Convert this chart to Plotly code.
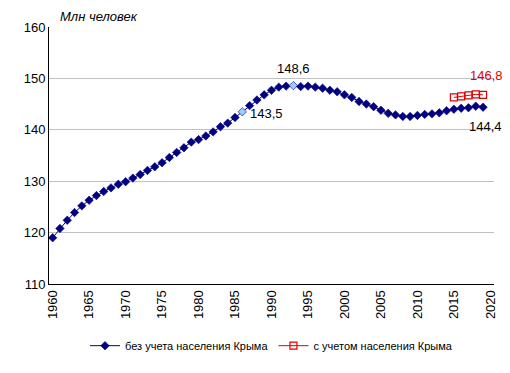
import plotly.graph_objects as go

years = list(range(1960, 2020))
pop_no_crimea = [
    119.0, 120.8, 122.4, 123.9, 125.2, 126.3, 127.2, 128.0, 128.7, 129.4,
    129.9, 130.6, 131.3, 132.1, 132.8, 133.6, 134.6, 135.6, 136.5, 137.6,
    138.1, 138.8, 139.6, 140.6, 141.3, 142.4, 143.5, 144.7, 145.8, 146.8,
    147.7, 148.3, 148.5, 148.6, 148.4, 148.5, 148.3, 148.1, 147.7, 147.4,
    146.8, 146.3, 145.5, 145.0, 144.5, 143.8, 143.2, 142.9, 142.6, 142.6,
    142.8, 143.0, 143.1, 143.3, 143.7, 144.0, 144.2, 144.3, 144.6, 144.4,
]
years_crimea = [2015, 2016, 2017, 2018, 2019]
pop_with_crimea = [146.3, 146.5, 146.7, 146.9, 146.8]
highlight_years = [1986, 1993]
tick_years = list(range(1960, 2021, 5))
name_no = "без учета населения Крыма"
name_with = "с учетом населения Крыма"
y_title = "Млн человек"

NAVY = "#000080"
LIGHT = "#99ccff"
RED = "#e00000"
FONT = "Liberation Sans, Arial, sans-serif"

fill = [LIGHT if y in highlight_years else NAVY for y in years]

fig = go.Figure()
fig.add_trace(go.Scatter(
    x=years, y=pop_no_crimea, name=name_no, mode="lines+markers",
    line=dict(color=NAVY, width=1),
    marker=dict(symbol="diamond", size=6.5, color=fill, line=dict(color=NAVY, width=0.6)),
))
fig.add_trace(go.Scatter(
    x=years_crimea, y=pop_with_crimea, name=name_with, mode="lines+markers",
    line=dict(color=RED, width=1),
    marker=dict(symbol="square-open", size=7, color=RED, line=dict(width=1.2)),
))

def fmt(v):
    return f"{v:.1f}".replace(".", ",")

i1 = years.index(highlight_years[0])
i2 = years.index(highlight_years[1])
ann = [
    dict(x=years[i1], y=pop_no_crimea[i1], text=fmt(pop_no_crimea[i1]),
         xanchor="left", yanchor="middle", xshift=6, yshift=-2, font=dict(color="#000000")),
    dict(x=years[i2], y=pop_no_crimea[i2], text=fmt(pop_no_crimea[i2]),
         xanchor="center", yanchor="bottom", yshift=8, font=dict(color="#000000")),
    dict(x=years_crimea[-1], y=pop_with_crimea[-1], text=fmt(pop_with_crimea[-1]),
         xanchor="center", yanchor="bottom", xshift=3, yshift=10, font=dict(color=RED)),
    dict(x=years[-1], y=pop_no_crimea[-1], text=fmt(pop_no_crimea[-1]),
         xanchor="center", yanchor="top", xshift=2, yshift=-10, font=dict(color="#000000")),
]
for a in ann:
    a.update(showarrow=False, xref="x", yref="y")
    a["font"].update(size=13, family=FONT)
fig.update_layout(annotations=ann)

fig.add_annotation(xref="paper", yref="paper", x=0.02, y=1.0, yanchor="bottom", yshift=1,
                   xanchor="left", text="<i>" + y_title + "</i>", showarrow=False,
                   font=dict(size=13, family=FONT, color="#000000"))

fig.update_layout(
    width=502, height=365,
    margin=dict(l=41, r=13, t=19, b=89),
    paper_bgcolor="white", plot_bgcolor="white",
    font=dict(family=FONT, size=12, color="#000000"),
    showlegend=True,
    legend=dict(orientation="h", x=0.5, xanchor="center", y=-0.24, yanchor="middle",
                font=dict(size=11, family=FONT), itemwidth=30, tracegroupgap=0),
    xaxis=dict(range=[1959.5, 2020.5], tickvals=tick_years, ticktext=[str(t) for t in tick_years],
               tickangle=-90, showgrid=False, showline=True, linecolor="#000000", linewidth=1,
               ticks="", tickfont=dict(size=13), zeroline=False, fixedrange=True),
    yaxis=dict(range=[110, 160], dtick=10, showgrid=True, gridcolor="#c0c0c0", gridwidth=1,
               showline=True, linecolor="#000000", linewidth=1, ticks="",
               tickfont=dict(size=13), zeroline=False, fixedrange=True),
)

fig.write_html("out.html")
